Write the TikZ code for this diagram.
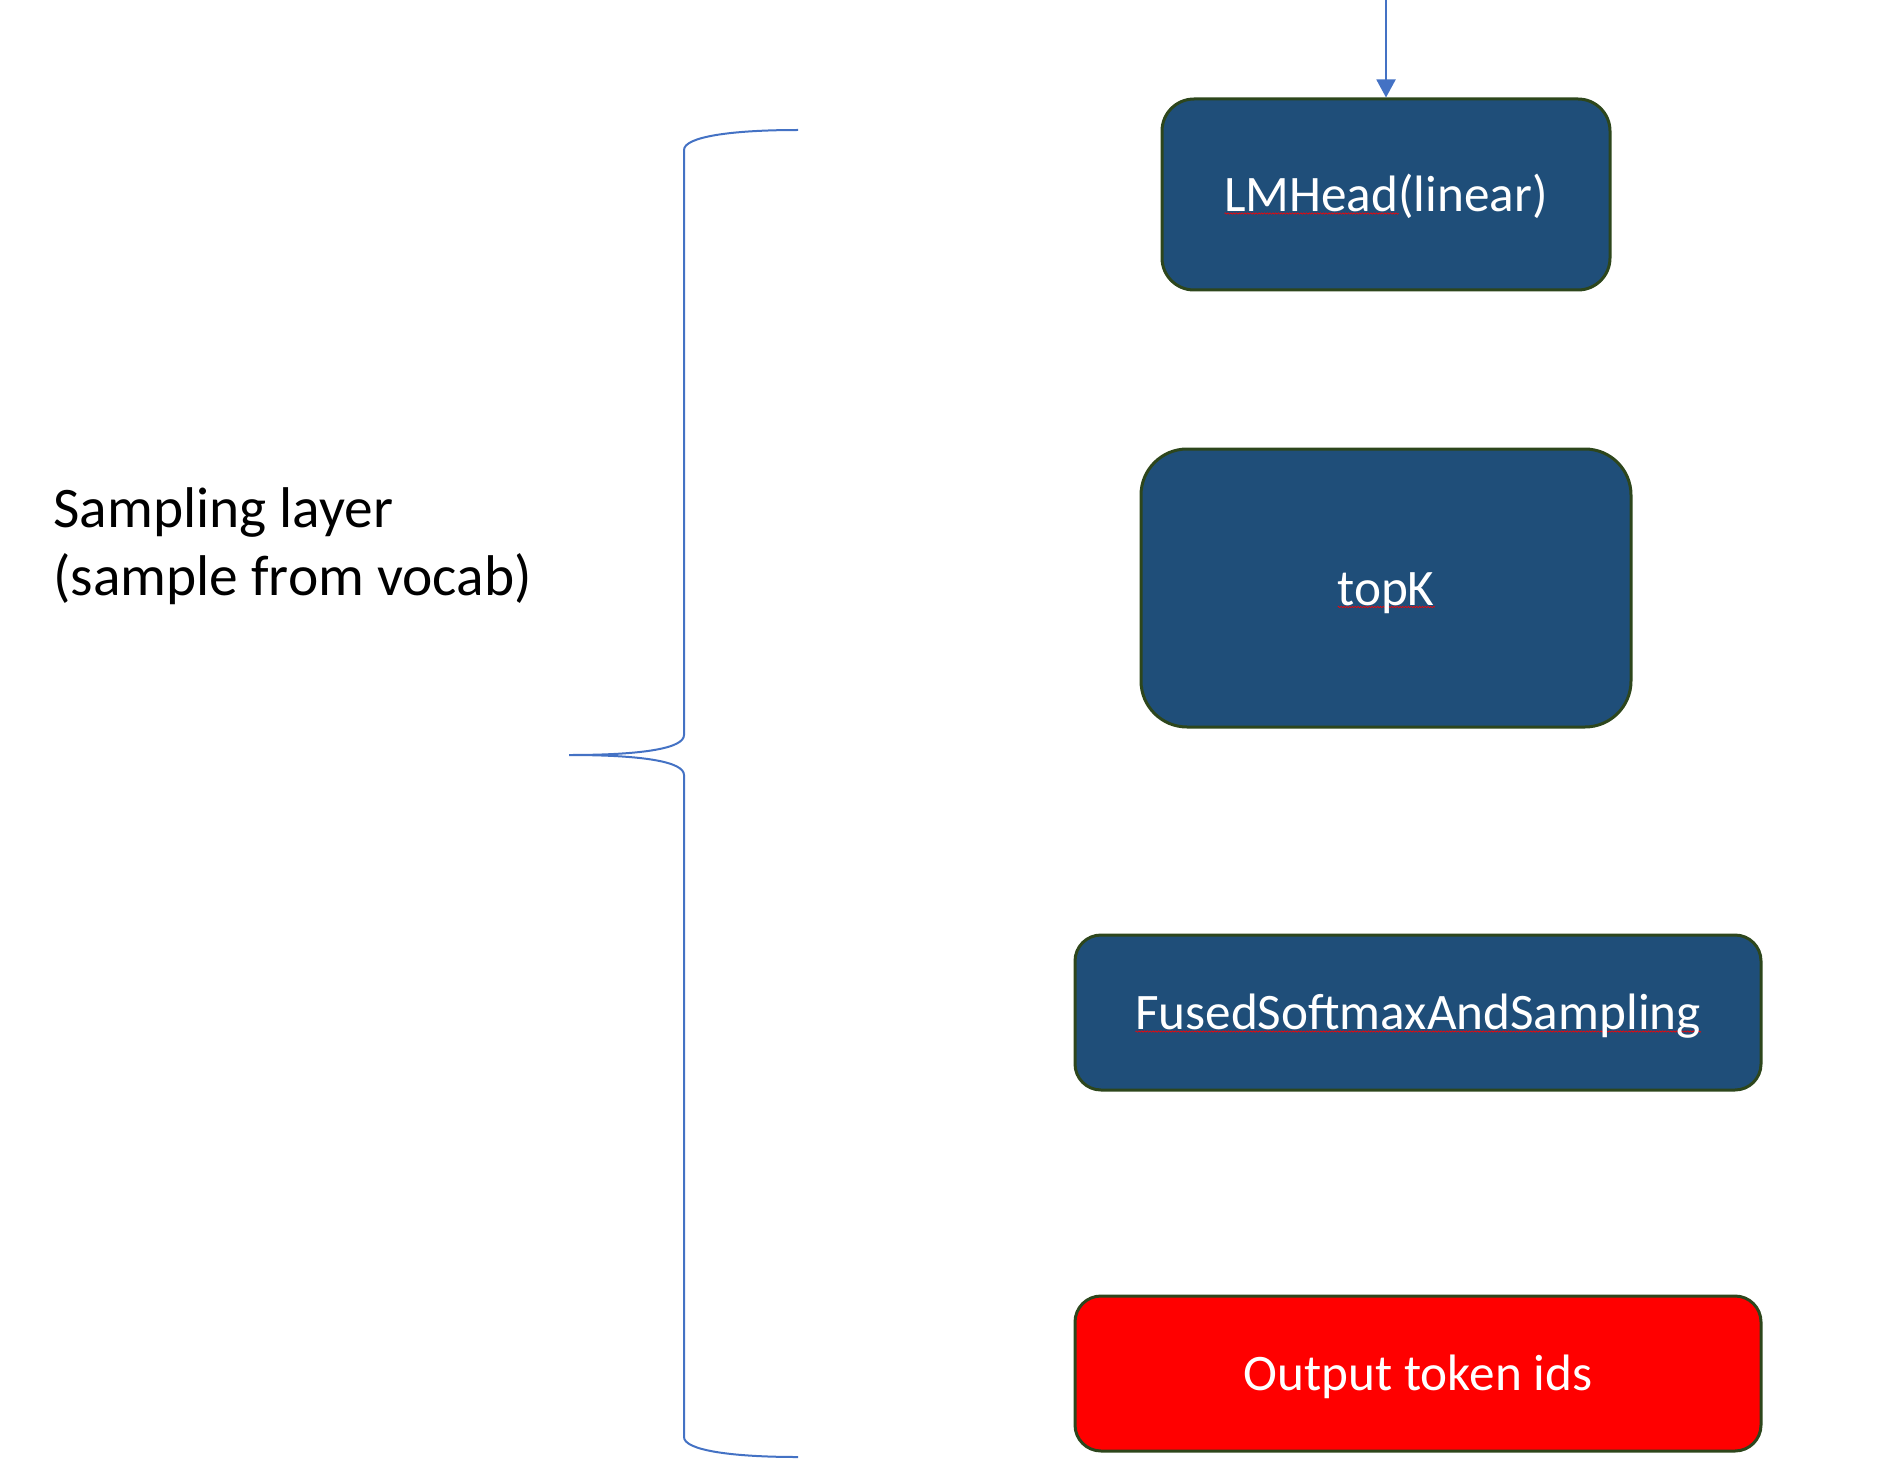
\documentclass[tikz,border=0pt]{standalone}
\usepackage{fontspec}
\setmainfont{Carlito}
\usetikzlibrary{arrows.meta,decorations.pathmorphing}
\newsavebox\spellbox
\newlength\spellwd
\newcommand\spellerr[1]{\sbox\spellbox{#1}\setlength\spellwd{\wd\spellbox}\rlap{\raisebox{-1pt}{\tikz[x=1pt,y=1pt,baseline=0pt,sharp corners]\draw[red,sharp corners,line width=0.3pt,decorate,decoration={zigzag,segment length=1.4pt,amplitude=0.35pt}] (0,0) -- (\spellwd,0);}}\usebox\spellbox}
\definecolor{boxblue}{RGB}{31,78,121}
\definecolor{boxedge}{RGB}{45,70,28}
\definecolor{linkblue}{RGB}{68,114,196}
\definecolor{outred}{RGB}{255,0,0}
\tikzset{
  stagebox/.style={draw=boxedge, line width=1.5pt, fill=boxblue, text=white,
    font=\fontsize{25.6}{30}\selectfont, inner sep=0pt, align=center,
    text height=17pt, text depth=0pt},
  outbox/.style={stagebox, fill=outred},
  labeltext/.style={font=\fontsize{28.7}{34}\selectfont, inner sep=0pt, anchor=base west, text=black},
  bracestyle/.style={draw=linkblue, line width=1pt},
  flow/.style={draw=linkblue, line width=1pt, -{Triangle[width=9.5pt,length=9pt]}}
}
\begin{document}
\begin{tikzpicture}[x=0.5pt, y=-0.5pt]
\path[use as bounding box] (0,0) rectangle (1900,1466);

% boxes
\node[stagebox, minimum width=224pt, minimum height=95.5pt, rounded corners=16pt]
  (lmhead) at (1386,194.5) {\spellerr{LMHead}(linear)};
\node[stagebox, minimum width=245pt, minimum height=139pt, rounded corners=23pt]
  (topk) at (1386,588) {\spellerr{topK}};
\node[stagebox, minimum width=343pt, minimum height=77.5pt, rounded corners=13pt]
  (fused) at (1418,1012.5) {\spellerr{FusedSoftmaxAndSampling}};
\node[outbox, minimum width=343pt, minimum height=77.5pt, rounded corners=13pt]
  (out) at (1418,1373.5) {Output token ids};

% incoming arrow
\coordinate (src) at (1386,0);
\draw[flow] (src) -- (lmhead.north);

% label
\node[labeltext] (lab1) at (53,527) {Sampling layer};
\node[labeltext] (lab2) at (53,595) {(sample from vocab)};

% brace
\coordinate (btop) at (798,130);
\coordinate (btip) at (569,755);
\coordinate (bbot) at (798,1457);
\draw[bracestyle] (btop) .. controls (730,130) and (684,137) .. (684,150)
  -- (684,735) .. controls (684,748) and (645,755) .. (btip)
  .. controls (645,755) and (684,762) .. (684,775)
  -- (684,1437) .. controls (684,1450) and (730,1457) .. (bbot);
\end{tikzpicture}
\end{document}
